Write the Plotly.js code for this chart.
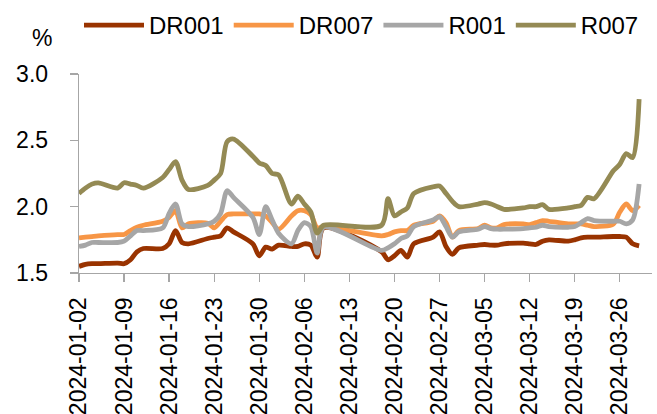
<!DOCTYPE html>
<html>
<head>
<meta charset="utf-8">
<script src="https://cdn.plot.ly/plotly-3.0.1.min.js"></script>
<style>html,body{margin:0;padding:0;background:#fff;}#chart{width:657px;height:414px;}</style>
</head>
<body>
<div id="chart"></div>
<script>
const dates = [
  "2024-01-02","2024-01-03","2024-01-04","2024-01-05",
  "2024-01-08","2024-01-09","2024-01-10","2024-01-11","2024-01-12",
  "2024-01-15","2024-01-16","2024-01-17","2024-01-18","2024-01-19",
  "2024-01-22","2024-01-23","2024-01-24","2024-01-25","2024-01-26",
  "2024-01-29","2024-01-30","2024-01-31","2024-02-01","2024-02-02",
  "2024-02-04","2024-02-05","2024-02-06","2024-02-07","2024-02-08","2024-02-09",
  "2024-02-18","2024-02-19","2024-02-20","2024-02-21","2024-02-22","2024-02-23",
  "2024-02-26","2024-02-27","2024-02-28","2024-02-29","2024-03-01",
  "2024-03-04","2024-03-05","2024-03-06","2024-03-07","2024-03-08",
  "2024-03-11","2024-03-12","2024-03-13","2024-03-14","2024-03-15",
  "2024-03-18","2024-03-19","2024-03-20","2024-03-21","2024-03-22",
  "2024-03-25","2024-03-26","2024-03-27","2024-03-28","2024-03-29"
];

const DR001 = [
  1.55,1.565,1.57,1.57,
  1.575,1.57,1.60,1.66,1.685,
  1.685,1.72,1.82,1.73,1.72,
  1.76,1.77,1.78,1.84,1.81,
  1.72,1.63,1.695,1.68,1.71,
  1.70,1.70,1.72,1.71,1.62,1.84,
  1.66,1.60,1.63,1.67,1.62,1.72,
  1.77,1.81,1.70,1.64,1.69,
  1.71,1.715,1.71,1.71,1.72,
  1.725,1.72,1.715,1.74,1.75,
  1.74,1.75,1.765,1.77,1.77,
  1.775,1.775,1.77,1.72,1.705
];

const DR007 = [
  1.765,1.77,1.775,1.78,
  1.79,1.79,1.82,1.845,1.86,
  1.89,1.92,1.97,1.84,1.87,
  1.875,1.84,1.89,1.94,1.945,
  1.945,1.945,1.93,1.88,1.83,
  1.93,1.97,1.97,1.94,1.84,1.85,
  1.78,1.79,1.81,1.82,1.82,1.86,
  1.89,1.93,1.88,1.77,1.82,
  1.835,1.86,1.84,1.84,1.865,
  1.87,1.865,1.88,1.895,1.89,
  1.87,1.87,1.87,1.86,1.85,
  1.87,1.96,2.02,1.97,2.01
];

const R001 = [
  1.70,1.71,1.73,1.73,
  1.73,1.74,1.78,1.82,1.82,
  1.84,1.95,2.02,1.87,1.85,
  1.87,1.89,1.95,2.12,2.07,
  1.92,1.79,2.00,1.90,1.80,
  1.72,1.82,1.88,1.85,1.65,1.845,
  1.67,1.69,1.72,1.76,1.78,1.85,
  1.90,1.925,1.85,1.77,1.81,
  1.83,1.85,1.835,1.83,1.83,
  1.835,1.84,1.845,1.86,1.85,
  1.845,1.85,1.88,1.91,1.895,
  1.89,1.89,1.87,1.90,2.17
];

const R007 = [
  2.10,2.14,2.17,2.18,
  2.14,2.18,2.17,2.16,2.14,
  2.22,2.28,2.34,2.20,2.13,
  2.16,2.20,2.25,2.49,2.51,
  2.38,2.33,2.31,2.25,2.24,
  2.02,2.08,2.02,1.96,1.80,1.86,
  1.86,2.06,1.93,1.96,1.99,2.10,
  2.15,2.155,2.10,2.04,2.00,
  2.02,2.03,2.02,2.00,1.98,
  1.99,2.00,2.00,2.015,1.98,
  1.99,2.00,2.01,2.07,2.06,
  2.27,2.32,2.40,2.37,2.81
];

const seriesNames = ["DR001","DR007","R001","R007"];
const seriesData = [DR001, DR007, R001, R007];
const seriesColors = ["#993300","#F79646","#A6A6A6","#948A54"];

const FONT = "'Liberation Sans', Arial, sans-serif";

const traces = seriesNames.map((n, i) => ({
  type: "scatter",
  mode: "lines",
  name: n,
  x: dates,
  y: seriesData[i],
  line: {color: seriesColors[i], width: 4.8, shape: "spline", smoothing: 0.8},
  hoverinfo: "skip"
}));

const layout = {
  width: 657,
  height: 414,
  margin: {l: 79, r: 5, t: 73, b: 141, pad: 0},
  paper_bgcolor: "#ffffff",
  plot_bgcolor: "#ffffff",
  font: {family: FONT, color: "#000000", size: 22},
  showlegend: true,
  legend: {
    orientation: "h",
    x: 0.0, xanchor: "left",
    y: 1.35, yanchor: "top",
    font: {family: FONT, size: 24, color: "#000"},
    itemwidth: 60,
    traceorder: "normal",
    bgcolor: "rgba(0,0,0,0)"
  },
  xaxis: {
    type: "date",
    range: ["2024-01-02", "2024-03-31"],
    tick0: "2024-01-02",
    dtick: 7 * 86400000,
    tickformat: "%Y-%m-%d",
    tickangle: -90,
    ticks: "outside",
    ticklen: 8,
    tickcolor: "#A6A6A6",
    tickwidth: 1.3,
    showline: true,
    linecolor: "#A6A6A6",
    linewidth: 1.3,
    showgrid: false,
    zeroline: false,
    tickfont: {family: FONT, size: 23, color: "#000"},
    ticklabelstandoff: 6
  },
  yaxis: {
    range: [1.5, 3.0],
    tick0: 1.5,
    dtick: 0.5,
    tickformat: ".1f",
    ticks: "outside",
    ticklen: 8,
    tickcolor: "#A6A6A6",
    tickwidth: 1.3,
    showline: true,
    linecolor: "#A6A6A6",
    linewidth: 1.3,
    showgrid: false,
    zeroline: false,
    tickfont: {family: FONT, size: 23, color: "#000"},
    ticklabelstandoff: 17
  },
  annotations: [{
    text: "%",
    xref: "paper", yref: "paper",
    x: -0.065, y: 1.18,
    xanchor: "center", yanchor: "middle",
    showarrow: false,
    font: {family: FONT, size: 23, color: "#000"}
  }]
};

Plotly.newPlot("chart", traces, layout, {displayModeBar: false, staticPlot: true});
</script>
</body>
</html>
